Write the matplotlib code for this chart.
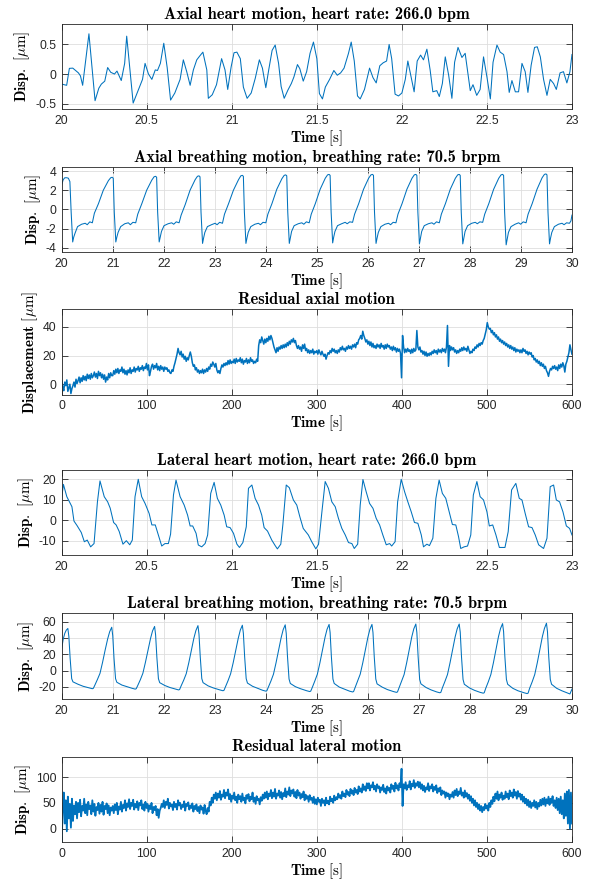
import numpy as np
import matplotlib.pyplot as plt
from matplotlib.ticker import FuncFormatter

plt.rcParams['mathtext.fontset'] = 'cm'
plt.rcParams['axes.unicode_minus'] = False
plt.rcParams['font.family'] = 'Liberation Sans'

# ---- data ----
axial_heart = [
    (20.0, -0.17), (20.029, -0.19), (20.045, 0.096), (20.065, 0.1), (20.098, 0.02), (20.11, -0.03),
    (20.123, -0.19), (20.16, 0.68), (20.196, -0.45), (20.218, -0.24), (20.233, -0.17), (20.253, -0.12),
    (20.27, 0.11), (20.288, 0.03), (20.31, 0.0), (20.325, 0.05), (20.35, -0.11), (20.37, 0.18),
    (20.382, 0.64), (20.42, -0.49), (20.45, -0.27), (20.475, -0.09), (20.49, 0.18), (20.51, 0.0),
    (20.53, -0.09), (20.55, 0.07), (20.563, 0.06), (20.58, 0.18), (20.6, 0.52), (20.62, 0.11),
    (20.64, -0.44), (20.665, -0.32), (20.696, -0.09), (20.715, 0.24), (20.735, 0.04), (20.755, -0.19),
    (20.774, 0.07), (20.794, 0.24), (20.81, 0.3), (20.83, 0.37), (20.853, 0.07), (20.862, -0.41),
    (20.885, -0.35), (20.91, -0.18), (20.94, 0.26), (20.96, 0.07), (20.976, -0.26), (20.996, 0.12),
    (21.013, 0.36), (21.03, 0.37), (21.05, 0.26), (21.068, -0.22), (21.09, -0.41), (21.114, -0.32),
    (21.138, -0.07), (21.162, 0.24), (21.18, 0.1), (21.2, -0.23), (21.217, 0.07), (21.237, 0.40),
    (21.255, 0.49), (21.275, 0.18), (21.29, -0.21), (21.308, -0.41), (21.33, -0.27), (21.35, -0.16),
    (21.365, -0.05), (21.386, 0.16), (21.4, 0.09), (21.42, -0.12), (21.44, 0.04), (21.46, 0.35),
    (21.48, 0.54), (21.5, 0.26), (21.515, -0.33), (21.533, -0.42), (21.55, -0.22), (21.575, -0.09),
    (21.6, 0.06), (21.62, -0.02), (21.64, 0.02), (21.66, 0.1), (21.686, 0.35), (21.702, 0.54),
    (21.72, 0.22), (21.739, -0.37), (21.755, -0.42), (21.78, -0.26), (21.81, 0.1), (21.83, -0.06),
    (21.849, -0.15), (21.87, 0.14), (21.89, 0.19), (21.91, 0.22), (21.925, 0.5), (21.94, 0.26),
    (21.96, -0.34), (21.98, -0.37), (22.0, -0.32), (22.02, -0.09), (22.035, 0.22), (22.054, -0.05),
    (22.072, -0.3), (22.09, 0.22), (22.11, 0.32), (22.127, 0.24), (22.147, 0.42), (22.166, 0.07),
    (22.182, -0.3), (22.205, -0.28), (22.22, -0.38), (22.238, -0.16), (22.255, 0.29), (22.275, -0.02),
    (22.294, -0.41), (22.31, 0.2), (22.33, 0.45), (22.353, 0.28), (22.372, 0.35), (22.402, -0.28),
    (22.418, -0.18), (22.44, -0.36), (22.46, -0.26), (22.48, 0.29), (22.5, -0.05), (22.52, -0.42),
    (22.536, 0.2), (22.559, 0.49), (22.578, 0.37), (22.598, 0.33), (22.618, 0.04), (22.631, -0.31),
    (22.647, -0.11), (22.667, -0.3), (22.686, -0.3), (22.706, 0.18), (22.725, 0.04), (22.741, -0.31),
    (22.76, 0.15), (22.78, 0.45), (22.796, 0.46), (22.814, 0.29), (22.833, -0.09), (22.853, -0.36),
    (22.872, -0.09), (22.892, -0.16), (22.908, -0.26), (22.93, 0.02), (22.95, 0.04), (22.97, -0.15),
    (22.988, 0.04), (23.0, 0.33),
]

axial_breath = [
    (20.0, 2.6), (20.03, 3.1), (20.06, 3.3), (20.1, 3.3), (20.13, 3.25), (20.16, 2.9), (20.185, -0.3), (20.215, -3.4),
    (20.235, -2.9), (20.26, -2.5), (20.31, -1.8), (20.39, -1.55), (20.46, -1.45), (20.5, -1.6), (20.55, -1.3), (20.6, -1.4),
    (20.64, -0.4), (20.72, 0.6), (20.815, 2.0), (20.915, 3.0), (20.96, 3.3), (20.99, 3.35), (21.01, 3.25), (21.03, -0.3), (21.06, -3.4),
    (21.08, -2.9), (21.105, -2.4), (21.155, -1.8), (21.235, -1.5), (21.305, -1.4), (21.345, -1.6), (21.395, -1.35), (21.45, -1.4),
    (21.49, -0.5), (21.57, 0.6), (21.665, 2.0), (21.765, 3.05), (21.81, 3.4), (21.84, 3.45), (21.86, 3.35), (21.88, -0.3), (21.91, -3.4),
    (21.93, -2.9), (21.955, -2.3), (22.005, -1.7), (22.085, -1.5), (22.155, -1.4), (22.195, -1.55), (22.245, -1.3), (22.3, -1.4),
    (22.34, -0.6), (22.42, 0.5), (22.515, 2.0), (22.615, 3.1), (22.66, 3.45), (22.69, 3.5), (22.71, 3.4), (22.73, -0.3), (22.76, -3.55),
    (22.78, -3.0), (22.805, -2.4), (22.855, -1.8), (22.935, -1.6), (23.005, -1.45), (23.045, -1.6), (23.095, -1.35), (23.15, -1.45),
    (23.19, -0.5), (23.27, 0.6), (23.365, 2.0), (23.465, 3.1), (23.51, 3.5), (23.54, 3.55), (23.56, 3.45), (23.58, -0.3), (23.61, -3.55),
    (23.63, -3.0), (23.655, -2.4), (23.705, -1.8), (23.785, -1.55), (23.855, -1.45), (23.895, -1.6), (23.945, -1.35), (24.0, -1.4),
    (24.04, -0.5), (24.12, 0.6), (24.215, 2.1), (24.315, 3.2), (24.36, 3.55), (24.39, 3.6), (24.41, 3.5), (24.43, -0.3), (24.46, -3.55),
    (24.48, -3.0), (24.505, -2.3), (24.555, -1.7), (24.635, -1.5), (24.705, -1.4), (24.745, -1.55), (24.795, -1.3), (24.85, -1.4),
    (24.89, -0.5), (24.97, 0.6), (25.065, 2.1), (25.165, 3.25), (25.21, 3.6), (25.24, 3.65), (25.26, 3.55), (25.28, -0.3), (25.31, -3.5),
    (25.33, -2.9), (25.355, -2.3), (25.405, -1.7), (25.485, -1.5), (25.555, -1.35), (25.595, -1.5), (25.645, -1.3), (25.7, -1.35),
    (25.74, -0.5), (25.82, 0.6), (25.915, 2.1), (26.015, 3.25), (26.06, 3.6), (26.09, 3.65), (26.11, 3.55), (26.13, -0.3), (26.16, -3.55),
    (26.18, -3.0), (26.205, -2.4), (26.255, -1.8), (26.335, -1.55), (26.405, -1.45), (26.445, -1.6), (26.495, -1.35), (26.55, -1.4),
    (26.59, -0.5), (26.67, 0.6), (26.765, 2.1), (26.865, 3.25), (26.91, 3.6), (26.94, 3.65), (26.96, 3.55), (26.98, -0.3), (27.01, -3.6),
    (27.03, -3.0), (27.055, -2.3), (27.105, -1.7), (27.185, -1.5), (27.255, -1.4), (27.295, -1.55), (27.345, -1.3), (27.4, -1.4),
    (27.44, -0.5), (27.52, 0.6), (27.615, 2.1), (27.715, 3.25), (27.76, 3.6), (27.79, 3.65), (27.81, 3.55), (27.83, -0.3), (27.86, -3.6),
    (27.88, -3.0), (27.905, -2.3), (27.955, -1.7), (28.035, -1.45), (28.105, -1.35), (28.145, -1.5), (28.195, -1.3), (28.25, -1.35),
    (28.29, -0.5), (28.37, 0.6), (28.465, 2.1), (28.565, 3.25), (28.61, 3.6), (28.64, 3.65), (28.66, 3.55), (28.68, -0.3), (28.71, -3.7),
    (28.73, -3.1), (28.755, -2.4), (28.805, -1.8), (28.885, -1.55), (28.955, -1.4), (28.995, -1.55), (29.045, -1.3), (29.1, -1.4),
    (29.14, -0.5), (29.22, 0.6), (29.315, 2.1), (29.415, 3.3), (29.46, 3.65), (29.49, 3.7), (29.51, 3.6), (29.53, -0.3), (29.56, -3.6),
    (29.58, -3.0), (29.605, -2.4), (29.655, -1.8), (29.735, -1.55), (29.805, -1.45), (29.845, -1.6), (29.895, -1.4), (29.95, -1.45),
    (29.98, -1.2), (30.0, -0.6),
]

# residual axial motion, one value every 1.2 s from 0 to 600 s (one row per minute)
axial_resid = [
    2.5, -2, -4.5, 1.5, -1, 3, -5, -2.5, 0, -6.5, -3, -1, 1.5, -2, 3.5, 0.5, 2.5, 5, 1, 4.5, 2, 6, 3, 5.5, 2.5,
    7, 4, 6.5, 3.5, 7.5, 4.5, 6, 8.5, 5, 7.5, 4, 9, 6, 8, 4.5, 7, 3.5, 6.5, 1.5, 5, 3, 7.5, 4.5, 8, 6,
    6, 9.5, 7, 10.5, 8, 11, 7.5, 10, 9, 12, 8, 10.5, 7, 9.5, 6.5, 10, 8, 11.5, 7.5, 10, 9, 12, 8.5, 11, 10,
    12.5, 9, 11.5, 10.5, 13, 9.5, 12, 11, 14.5, 10, 13.5, 6, 9, 12.5, 14, 10.5, 13, 11.5, 14.5, 10, 12.5, 9.5, 13, 10.5, 12,
    9, 12, 10.5, 11.5, 9, 10, 8, 7.5, 10, 9, 12.5, 15, 18, 21, 25, 22, 20.5, 23, 19, 21, 17.5, 19.5, 16, 18.5, 17,
    20, 22.5, 19.5, 15, 12.5, 13.5, 10, 11.5, 8.5, 10, 7.5, 9.5, 8, 10.5, 7.5, 10, 8.5, 11, 9, 12, 10.5, 14, 12.5, 15.5, 14,
    12, 14.5, 10, 8, 9.5, 7.5, 11, 13.5, 12, 14.5, 13, 15, 13.5, 16.5, 14, 17, 14.5, 16, 15, 17.5, 14.5, 18, 15.5, 17, 16,
    18.5, 15, 17.5, 14, 16.5, 15.5, 18, 14.5, 17, 15, 18.5, 16, 17, 14.5, 16, 15, 17.5, 16, 27, 31, 29, 33, 30.5, 28, 31.5,
    29, 32, 30, 33.5, 31, 34, 32, 29, 26, 24, 22, 25.5, 23, 26, 24.5, 27, 25, 27.5, 25.5, 28, 26, 29, 27, 30, 28,
    31, 29.5, 32, 29, 30.5, 27, 25, 27, 24.5, 26, 23, 27.5, 25, 28, 23.5, 25, 22, 24, 21.5, 23.5, 22, 24.5, 21, 23, 22,
    23.5, 21, 24, 22, 20.5, 23, 21, 19.5, 21, 17.5, 20, 22, 21, 23.5, 22, 25, 23, 24.5, 22, 23.5, 21.5, 24, 22.5, 25.5, 24,
    26.5, 24, 25, 23, 26, 24.5, 27, 25, 26.5, 24.5, 27.5, 26, 28, 25.5, 29, 28, 31, 32, 34, 31.5, 37, 34, 32, 29.5, 31,
    28, 30, 27, 29.5, 26, 28.5, 25.5, 27, 25, 28, 26, 27.5, 25, 28.5, 26, 27, 24.5, 27.5, 25, 28, 26, 27, 24.5, 26, 23.5,
    26.5, 24, 25.5, 22.5, 25, 23, 24.5, 21.5, 4.5, 34, 26, 22, 24.5, 22.5, 25, 23, 24, 21.5, 24.5, 22, 25, 23, 24, 37.5, 26,
    24, 26, 22.5, 23.5, 21, 23, 20, 22.5, 19.5, 21.5, 20, 22, 20.5, 23, 21.5, 24, 22, 23.5, 21, 24.5, 22.5, 24, 22, 25, 23,
    24.5, 22, 26, 41, 12.5, 27, 23.5, 26, 24, 25.5, 22.5, 24, 21.5, 23.5, 22, 24.5, 23, 25.5, 23.5, 26, 24, 25, 23, 26.5, 24,
    21.5, 23, 22, 24.5, 23.5, 26, 25, 27.5, 26, 28.5, 27, 29, 28, 30.5, 32, 35, 38, 43, 40, 38.5, 39, 36, 37.5, 34.5, 36,
    33, 34.5, 31.5, 33, 30, 31.5, 29, 30.5, 28, 29.5, 27, 28.5, 26, 27.5, 25, 27, 24.5, 26, 23.5, 25.5, 22.5, 24.5, 23, 24, 22,
    24, 22, 25, 23, 24, 21.5, 23, 20.5, 22.5, 21, 22, 19, 20, 17, 18, 15.5, 17, 14.5, 16, 13, 15, 12.5, 14, 11, 12.5,
    9.5, 8, 5.5, 9, 11, 10, 12.5, 11, 13, 10.5, 12, 9.5, 13.5, 11, 14, 12, 15, 13, 8.5, 14, 16, 19, 22, 27.5, 24,
    21,
]

lateral_heart = [
    (20.0, 11), (20.01, 17.5), (20.03, 11.5), (20.06, 6.6), (20.072, -0.4), (20.09, -2.6), (20.115, -6.0), (20.133, -10.5),
    (20.15, -9.7), (20.17, -13), (20.19, -11.4), (20.21, 9), (20.225, 19.2), (20.25, 11.5), (20.27, 9), (20.285, 5.9),
    (20.305, -1.1), (20.32, -2.3), (20.338, -5.5), (20.36, -11.7), (20.38, -10), (20.4, -12), (20.415, -9.7), (20.431, 11.5),
    (20.45, 20), (20.47, 11.5), (20.49, 8.2), (20.514, 3.3), (20.53, -2.3), (20.55, -2.3), (20.568, -7.2), (20.588, -12.6),
    (20.607, -11.4), (20.627, -11.4), (20.64, -6.8), (20.657, 12.3), (20.672, 19.6), (20.696, 11.5), (20.72, 7.4), (20.74, 2.5),
    (20.755, -2.8), (20.77, -2.8), (20.79, -6.4), (20.803, -12.1), (20.823, -13), (20.843, -11.4), (20.858, -7.2), (20.876, 13.1),
    (20.896, 18.5), (20.915, 10.7), (20.935, 7.4), (20.955, 2.5), (20.97, -3.2), (20.99, -3.6), (21.01, -6.4), (21.03, -11.7),
    (21.045, -13.3), (21.065, -10.9), (21.085, -3.2), (21.098, 15.6), (21.118, 17.2), (21.137, 10.7), (21.157, 7.4), (21.176, 2.5),
    (21.19, -3.6), (21.21, -5.3), (21.235, -9.7), (21.255, -12.4), (21.268, -14), (21.288, -11.7), (21.3, -2.3), (21.32, 17.2),
    (21.338, 15.9), (21.362, 9.9), (21.382, 7.4), (21.4, 1.7), (21.42, -4), (21.45, -7.2), (21.47, -10.5), (21.494, -14),
    (21.51, -11.7), (21.53, 4.3), (21.549, 18.9), (21.568, 15.6), (21.588, 9), (21.608, 6.6), (21.627, 0.9), (21.647, -4),
    (21.667, -7.2), (21.686, -10.9), (21.706, -11.4), (21.72, -13.8), (21.74, -11.7), (21.755, 7.4), (21.771, 19.9), (21.79, 13.9),
    (21.81, 8.2), (21.83, 5.8), (21.849, 0.9), (21.869, -2.3), (21.888, -7.2), (21.908, -12), (21.928, -11.4), (21.94, -12.6),
    (21.96, -10.5), (21.975, 9), (21.996, 20), (22.016, 13.9), (22.035, 9), (22.055, 4.1), (22.074, -1.1), (22.094, -1.5),
    (22.114, -7.2), (22.127, -13), (22.147, -11.7), (22.162, -12.4), (22.182, -8.8), (22.2, 10.7), (22.219, 19.6), (22.238, 13.1),
    (22.258, 10.7), (22.278, 4.1), (22.297, -2.1), (22.317, -2.3), (22.333, -8), (22.346, -13.8), (22.366, -13), (22.386, -12.6),
    (22.405, -7.2), (22.42, 12.3), (22.441, 18.9), (22.46, 11.5), (22.48, 9.9), (22.5, 4.1), (22.514, -2.8), (22.534, -2.3),
    (22.553, -7.2), (22.573, -13.3), (22.606, -13.3), (22.625, -5.6), (22.645, 14.8), (22.67, 18), (22.69, 10.7), (22.706, 9.9),
    (22.725, 3.3), (22.745, -3.2), (22.765, -3.6), (22.784, -7.2), (22.804, -12), (22.833, -13.8), (22.853, -8.8), (22.872, 16.4),
    (22.892, 17.2), (22.908, 9.9), (22.927, 9), (22.947, 4.1), (22.967, -2.8), (22.986, -4), (23.0, -7.2),
]

lateral_breath = [
    (20.0, 27.5), (20.03, 39), (20.06, 46), (20.09, 50), (20.12, 52),
    (20.14, 42), (20.165, 15), (20.195, -10), (20.22, -14), (20.32, -17), (20.42, -19.5), (20.54, -21.5), (20.6, -22.5),
    (20.62, -22), (20.65, -18), (20.7, -11), (20.75, -3.5), (20.8, 10), (20.85, 25), (20.9, 39), (20.94, 48), (20.98, 53.5),
    (21.0, 43), (21.025, 15), (21.055, -10), (21.08, -14.5), (21.18, -18), (21.28, -20), (21.38, -22), (21.44, -23),
    (21.46, -22.5), (21.49, -18.5), (21.54, -11.5), (21.59, -3.5), (21.64, 10), (21.69, 25), (21.74, 39.5), (21.78, 49), (21.82, 54.5),
    (21.84, 44), (21.865, 16), (21.895, -10), (21.92, -15), (22.02, -18.5), (22.12, -21), (22.23, -23), (22.29, -24),
    (22.31, -23.5), (22.34, -19), (22.39, -12), (22.44, -4), (22.49, 9.5), (22.54, 25), (22.59, 40), (22.63, 49.5), (22.67, 55.5),
    (22.69, 45), (22.715, 17), (22.745, -10), (22.77, -15), (22.87, -19), (22.97, -21.5), (23.1, -24), (23.16, -25),
    (23.18, -24.5), (23.21, -20), (23.26, -12.5), (23.31, -4), (23.36, 9.5), (23.41, 25), (23.46, 40), (23.5, 50), (23.54, 56),
    (23.56, 46), (23.585, 17), (23.615, -10), (23.64, -15.5), (23.74, -19.5), (23.84, -22), (23.94, -24.5), (24.0, -25.5),
    (24.02, -25), (24.05, -20.5), (24.1, -13), (24.15, -4.5), (24.2, 9.5), (24.25, 25), (24.3, 40.5), (24.34, 50.5), (24.38, 56.5),
    (24.4, 46), (24.425, 17), (24.455, -10.5), (24.48, -16), (24.58, -20), (24.68, -22.5), (24.8, -25), (24.86, -26),
    (24.88, -25.5), (24.91, -21), (24.96, -13), (25.01, -4.5), (25.06, 9.5), (25.11, 25.5), (25.16, 41), (25.2, 51), (25.24, 57),
    (25.26, 47), (25.285, 17), (25.315, -10.5), (25.34, -16), (25.44, -20.5), (25.54, -23), (25.64, -25.5), (25.7, -26.5),
    (25.72, -26), (25.75, -21), (25.8, -13), (25.85, -4.5), (25.9, 9.5), (25.95, 25.5), (26.0, 41), (26.04, 51), (26.08, 57),
    (26.1, 47), (26.125, 17), (26.155, -10.5), (26.18, -16.5), (26.28, -20.5), (26.38, -23.5), (26.5, -26), (26.56, -27),
    (26.58, -26.5), (26.61, -21.5), (26.66, -13.5), (26.71, -5), (26.76, 9.5), (26.81, 25.5), (26.86, 41.5), (26.9, 51.5), (26.94, 57.5),
    (26.96, 47), (26.985, 17), (27.015, -11), (27.04, -16.5), (27.14, -21), (27.24, -24), (27.35, -26.5), (27.41, -27.5),
    (27.43, -27), (27.46, -21.5), (27.51, -13.5), (27.56, -5), (27.61, 9.5), (27.66, 25.5), (27.71, 41.5), (27.75, 51.5), (27.79, 57.5),
    (27.81, 47.5), (27.835, 17), (27.865, -11), (27.89, -17), (27.99, -21.5), (28.09, -24.5), (28.2, -27), (28.26, -28),
    (28.28, -27.5), (28.31, -22), (28.36, -14), (28.41, -5), (28.46, 9.5), (28.51, 26), (28.56, 42), (28.6, 52), (28.64, 58),
    (28.66, 48), (28.685, 17), (28.715, -11), (28.74, -17), (28.84, -22), (28.94, -25), (29.06, -27.5), (29.12, -28.5),
    (29.14, -28), (29.17, -22), (29.22, -14), (29.27, -5), (29.32, 9.5), (29.37, 26), (29.42, 42), (29.46, 52), (29.5, 58.5),
    (29.52, 48), (29.545, 17), (29.575, -11), (29.6, -17), (29.7, -22), (29.8, -25), (29.9, -27.5), (29.96, -29), (30.0, -23),
]

# residual lateral motion, one value every 1.2 s from 0 to 600 s (one row per minute)
lateral_resid = [
    -24, 40, 70, 10, 55, -5, 62, 20, 48, 2, 58, 15, 45, 28, 52, 20, 50, 32, 56, 24, 44, 35, 58, 30, 47,
    26, 52, 38, 45, 28, 55, 33, 48, 25, 42, 36, 50, 29, 46, 33, 52, 27, 44, 38, 49, 30, 45, 26, 41, 35,
    44, 30, 47, 36, 50, 28, 43, 37, 52, 33, 46, 40, 55, 35, 49, 42, 57, 38, 50, 44, 56, 37, 48, 41, 53,
    36, 50, 45, 55, 38, 47, 35, 52, 40, 48, 33, 45, 38, 50, 30, 42, 36, 44, 26, 38, 21, 35, 40, 48, 42,
    55, 40, 52, 46, 58, 39, 50, 43, 47, 36, 52, 42, 48, 37, 55, 45, 50, 38, 46, 42, 53, 35, 48, 44, 51,
    37, 45, 40, 49, 33, 44, 38, 47, 34, 42, 30, 45, 37, 41, 29, 46, 35, 28, 40, 33, 52, 45, 60, 50, 66,
    58, 70, 55, 68, 60, 73, 56, 66, 62, 75, 59, 70, 64, 76, 57, 67, 52, 64, 58, 70, 55, 62, 50, 66, 57,
    63, 52, 68, 55, 60, 49, 65, 58, 67, 53, 62, 57, 70, 52, 60, 48, 63, 55, 58, 47, 61, 54, 66, 58, 70,
    60, 72, 57, 68, 63, 75, 59, 70, 62, 77, 58, 68, 64, 74, 60, 71, 57, 69, 63, 78, 61, 72, 66, 80, 63,
    74, 68, 76, 62, 71, 59, 75, 64, 70, 58, 67, 61, 72, 55, 66, 58, 63, 52, 65, 56, 60, 50, 62, 48, 57,
    47, 60, 52, 56, 44, 58, 50, 55, 45, 60, 49, 54, 47, 62, 53, 58, 50, 64, 55, 61, 57, 68, 60, 65, 58,
    72, 63, 68, 61, 75, 66, 71, 63, 77, 68, 74, 65, 79, 70, 75, 67, 82, 72, 78, 70, 86, 75, 82, 73, 88,
    78, 88, 74, 84, 80, 90, 76, 83, 72, 86, 79, 82, 70, 80, 75, 85, 71, 78, 68, 82, 74, 79, 70, 86, 77,
    83, 72, 89, 78, 84, 74, 88, 80, 116, 44, 86, 78, 90, 75, 84, 80, 92, 76, 87, 82, 94, 79, 88, 83, 91,
    80, 90, 77, 86, 74, 83, 71, 80, 76, 88, 73, 82, 78, 86, 72, 81, 75, 84, 69, 78, 72, 80, 65, 74, 68,
    72, 60, 70, 63, 68, 57, 66, 62, 71, 60, 74, 65, 77, 63, 72, 67, 79, 64, 70, 60, 74, 62, 69, 58, 66,
    54, 63, 50, 58, 45, 55, 42, 50, 38, 47, 35, 44, 32, 42, 36, 48, 39, 45, 35, 50, 42, 55, 48, 62, 53,
    68, 58, 72, 55, 66, 60, 70, 56, 64, 58, 72, 61, 68, 57, 74, 63, 70, 60, 76, 64, 71, 58, 73, 62, 68,
    56, 66, 52, 62, 49, 58, 45, 56, 42, 53, 40, 50, 44, 55, 41, 52, 38, 50, 43, 56, 45, 58, 47, 60, 44,
    57, 49, 62, 46, 58, 50, 63, 44, 55, 40, 60, 36, 58, 30, 62, 28, 55, 20, 68, 25, 72, 10, 75, 0, 70,
    10,
]

titles = [
    'Axial heart motion, heart rate: 266.0 bpm',
    'Axial breathing motion, breathing rate: 70.5 brpm',
    'Residual axial motion',
    'Lateral heart motion, heart rate: 266.0 bpm',
    'Lateral breathing motion, breathing rate: 70.5 brpm',
    'Residual lateral motion',
]

line_col = '#0072BD'
axis_col = '#262626'
grid_col = '#dedede'

fig = plt.figure(figsize=(6.01, 8.81), dpi=100)

# axes boxes in figure fractions (left, bottom, width, height)
boxes = [
    (0.1027, 0.8763, 0.8490, 0.0961),
    (0.1027, 0.7136, 0.8490, 0.0965),
    (0.1027, 0.5520, 0.8490, 0.0969),
    (0.1027, 0.3700, 0.8490, 0.0962),
    (0.1027, 0.2066, 0.8490, 0.0973),
    (0.1027, 0.0443, 0.8490, 0.0964),
]

fmt = FuncFormatter(lambda v, p: '{:g}'.format(round(v, 6)))
disp_lab = r'$\mathbf{Disp.}\ [\mu\mathrm{m}]$'

def style(ax, title, ylabel, xlim, xticks, ylim, yticks):
    ax.set_xlim(xlim)
    ax.set_ylim(ylim)
    ax.set_xticks(xticks)
    ax.set_yticks(yticks)
    ax.xaxis.set_major_formatter(fmt)
    ax.yaxis.set_major_formatter(fmt)
    ax.grid(True, color=grid_col, linewidth=0.6)
    ax.set_axisbelow(True)
    ax.tick_params(direction='in', top=True, right=True, length=4, width=0.6,
                   colors=axis_col, labelsize=8.8, pad=4)
    for s in ax.spines.values():
        s.set_color(axis_col)
        s.set_linewidth(0.6)
    ax.set_title(title, fontfamily='cmb10', fontsize=11.8, pad=4, color='black')
    ax.set_xlabel(r'$\mathbf{Time}\ [\mathrm{s}]$', fontsize=10.8, labelpad=1)
    ax.set_ylabel(ylabel, fontsize=10.8, labelpad=2)

axs = [fig.add_axes(b) for b in boxes]

ah = np.array(axial_heart)
axs[0].plot(ah[:, 0], ah[:, 1], color=line_col, lw=0.75)
style(axs[0], titles[0], disp_lab, (20, 23), np.arange(20, 23.01, 0.5), (-0.59, 0.84), [-0.5, 0, 0.5])

ab = np.array(axial_breath)
axs[1].plot(ab[:, 0], ab[:, 1], color=line_col, lw=0.75)
style(axs[1], titles[1], disp_lab, (20, 30), np.arange(20, 31, 1), (-4.48, 4.39), [-4, -2, 0, 2, 4])

ar = np.array(axial_resid)
axs[2].plot(np.linspace(0, 600, len(ar)), ar, color=line_col, lw=1.1)
style(axs[2], titles[2], r'$\mathbf{Displacement}\ [\mu\mathrm{m}]$', (0, 600), np.arange(0, 601, 100),
      (-7.3, 52.3), [0, 20, 40])

lh = np.array(lateral_heart)
axs[3].plot(lh[:, 0], lh[:, 1], color=line_col, lw=0.75)
style(axs[3], titles[3], disp_lab, (20, 23), np.arange(20, 23.01, 0.5), (-17, 24.4), [-10, 0, 10, 20])

lb = np.array(lateral_breath)
axs[4].plot(lb[:, 0], lb[:, 1], color=line_col, lw=0.75)
style(axs[4], titles[4], disp_lab, (20, 30), np.arange(20, 31, 1), (-35.2, 70.8), [-20, 0, 20, 40, 60])

lr = np.array(lateral_resid)
axs[5].plot(np.linspace(0, 600, len(lr)), lr, color=line_col, lw=1.3)
style(axs[5], titles[5], disp_lab, (0, 600), np.arange(0, 601, 100), (-25.7, 138.7), [0, 50, 100])

fig.savefig('out.png', dpi=100)
